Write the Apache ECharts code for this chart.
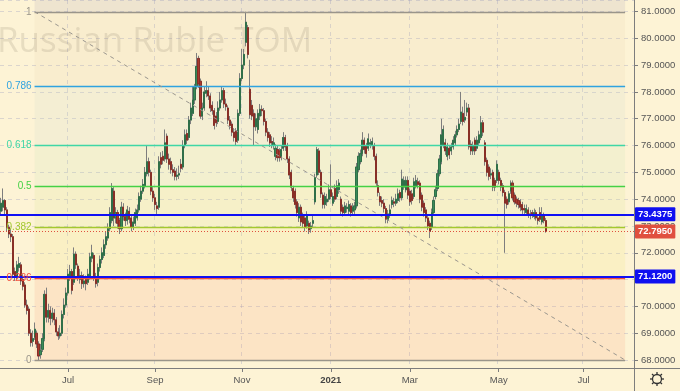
<!DOCTYPE html>
<html><head><meta charset="utf-8">
<script src="https://cdn.jsdelivr.net/npm/echarts@6/dist/echarts.min.js"></script>
<style>html,body{margin:0;padding:0;background:#fdf3d5;}#c{width:680px;height:391px;}</style>
</head><body><div id="c"></div>
<script>
// ---- categories ----
const startDate = '2020-05-14';
const barCount = 321;
const tickDates = ['2020-07-01','2020-09-01','2020-11-02','2021-01-04','2021-03-01','2021-05-03','2021-07-01'];
const tickLabels = ['Jul','Sep','Nov','2021','Mar','May','Jul'];

// ---- daily OHLC (USDRUB_TOM) ----
const openVals = [
73.55,73.70,73.95,73.60,72.95,72.70,72.60,71.30,71.10,71.45,
71.55,71.00,70.80,70.05,69.90,69.00,68.70,68.85,69.00,68.60,
68.20,68.40,68.80,70.45,69.60,69.85,69.55,69.75,69.50,69.05,
68.90,69.00,69.70,70.05,70.50,71.10,71.30,70.90,71.95,71.50,
71.00,71.15,70.85,71.00,70.90,71.10,71.80,71.90,71.10,70.90,
71.45,71.75,71.90,72.30,72.55,72.90,73.20,74.30,73.30,73.50,
73.20,72.90,73.70,73.35,73.20,73.55,73.30,72.95,73.10,73.30,
73.60,74.00,74.30,74.50,74.95,75.40,75.00,74.30,74.05,73.75,
73.70,75.55,75.60,75.50,76.35,75.50,75.40,75.10,75.05,74.85,
74.90,75.30,75.20,76.00,76.45,76.30,76.95,77.20,77.70,78.20,
79.25,78.40,77.10,77.40,77.95,78.05,77.85,77.50,77.30,77.10,
76.90,77.40,77.70,78.05,77.55,77.40,76.95,76.80,76.50,76.55,
76.20,77.20,78.50,79.00,79.85,80.40,78.10,77.50,77.20,76.70,
76.60,77.10,77.35,77.30,76.90,76.50,76.40,76.15,76.00,75.60,
75.85,75.80,75.60,75.90,76.30,76.00,75.50,75.00,74.40,74.30,
73.90,73.30,73.70,73.40,73.30,73.00,73.10,72.90,73.10,73.90,
74.90,75.80,75.00,74.15,73.80,73.90,74.00,74.35,73.85,74.40,
74.10,74.35,74.00,73.70,73.50,73.65,73.55,73.75,73.55,73.60,
73.75,75.10,75.40,75.70,76.20,76.00,75.90,76.05,76.00,76.00,
75.60,74.50,74.10,73.95,73.85,73.65,73.25,73.40,73.80,73.90,
73.85,73.95,74.25,74.05,74.45,74.35,74.70,74.30,74.20,74.10,
74.50,74.65,74.60,74.15,73.85,73.60,73.30,73.10,72.95,73.50,
74.10,74.40,74.95,75.40,76.00,76.10,75.60,75.90,75.80,75.95,
76.10,76.40,76.60,76.90,77.20,76.95,77.25,77.40,76.05,75.80,
76.20,75.90,76.10,76.30,76.85,76.10,75.45,75.20,74.90,75.00,
74.70,74.70,75.00,74.70,74.50,74.25,74.00,73.90,74.30,74.60,
74.15,74.00,73.95,73.90,73.80,73.65,73.50,73.60,73.45,73.50,
73.35,73.50,73.30,73.50,73.15,73.40,73.20];
const closeVals = [
73.85,73.95,73.60,72.95,72.70,72.60,71.20,71.10,71.55,71.60,
70.95,70.75,70.05,69.85,69.00,68.65,68.80,69.15,68.60,68.15,
68.35,68.80,70.45,69.60,69.85,69.55,69.75,69.50,69.05,68.90,
69.00,69.70,70.05,70.50,71.20,71.30,70.60,71.95,71.55,71.10,
71.15,70.85,70.95,70.85,71.20,71.85,72.00,71.10,70.85,71.45,
71.75,72.00,72.30,72.60,72.90,73.50,74.40,73.30,73.50,73.10,
72.90,73.70,73.35,73.20,73.60,73.25,72.95,73.15,73.50,73.60,
74.10,74.30,74.55,75.00,75.40,75.00,74.30,74.05,73.80,73.65,
75.40,75.30,75.45,76.10,75.50,75.30,75.10,75.00,74.85,74.90,
74.95,75.15,76.00,76.40,76.20,76.95,77.40,77.70,78.20,78.95,
78.30,77.10,77.40,78.00,78.05,77.85,77.40,77.30,76.75,76.85,
77.40,77.70,78.05,77.55,77.45,76.95,76.75,76.50,76.30,76.15,
77.20,78.50,79.00,79.40,80.60,79.40,77.15,77.10,76.70,77.00,
77.20,77.35,77.30,76.90,76.50,76.30,76.10,76.10,76.10,75.90,
75.55,75.55,75.85,76.30,75.95,75.50,74.90,74.45,74.05,73.80,
73.50,73.70,73.15,73.10,72.95,73.40,72.85,73.00,73.20,74.80,
75.85,75.00,74.20,73.80,74.10,74.00,74.35,74.10,74.10,74.00,
74.50,74.60,73.55,73.50,73.75,73.70,73.80,73.50,73.70,73.75,
75.20,75.60,75.70,76.20,75.85,75.70,76.25,76.10,76.15,75.60,
74.60,74.25,73.90,73.85,73.65,73.25,73.45,73.60,73.95,73.85,
74.00,74.20,74.05,74.75,74.70,74.70,74.15,73.90,73.95,74.65,
74.70,74.55,74.00,73.70,73.50,73.30,73.00,72.80,73.50,73.95,
74.35,74.95,75.50,76.40,76.60,75.80,75.95,75.65,75.95,76.20,
76.40,76.60,76.80,77.25,76.90,77.05,77.40,75.95,75.80,76.00,
75.80,76.20,76.40,76.85,76.50,75.40,75.00,74.85,74.95,74.45,
74.45,75.30,74.70,74.45,74.25,73.85,73.80,74.20,74.60,74.05,
73.90,73.85,73.80,73.70,73.60,73.60,73.65,73.45,73.40,73.45,
73.50,73.30,73.20,73.25,73.40,73.20,72.795];
const highVals = [
74.05,74.40,74.00,73.70,73.05,72.90,72.70,71.45,71.70,71.85,
71.65,71.20,70.90,70.25,70.00,69.15,69.10,69.40,69.10,68.70,
68.60,69.00,70.60,70.70,70.10,70.00,69.95,69.90,69.60,69.20,
69.30,69.85,70.30,70.70,71.40,71.55,71.40,72.20,72.05,71.60,
71.40,71.30,71.20,71.15,71.40,72.00,72.30,72.00,71.25,71.60,
71.90,72.20,72.50,72.80,73.10,73.70,74.60,74.45,73.70,73.60,
73.30,73.90,73.85,73.50,73.75,73.70,73.40,73.35,73.65,73.80,
74.25,74.50,74.75,75.20,76.00,75.55,75.10,74.45,74.20,73.90,
75.60,75.75,75.80,76.60,76.45,75.70,75.55,75.30,75.20,75.15,
75.25,75.50,76.20,76.60,76.60,77.10,77.60,78.20,78.30,79.45,
79.35,78.50,77.60,78.20,78.40,78.20,77.95,77.65,77.40,77.25,
77.65,78.00,78.20,78.15,77.75,77.50,77.10,76.90,76.65,76.65,
77.35,78.70,79.60,79.60,80.99,80.50,79.20,77.70,77.35,77.20,
77.35,77.55,77.50,77.40,77.00,76.65,76.50,76.35,76.30,76.05,
76.00,75.90,76.00,76.50,76.40,76.10,75.60,75.10,74.50,74.40,
74.00,73.85,73.80,73.50,73.40,73.55,73.20,73.15,73.40,74.95,
75.95,75.90,75.10,74.25,74.25,74.20,74.55,75.30,74.25,74.55,
74.70,74.75,74.10,73.80,73.90,73.85,73.95,73.85,73.85,73.90,
75.35,75.75,75.85,76.50,76.30,76.10,76.45,76.25,76.30,76.10,
75.70,74.70,74.25,74.10,74.00,73.75,73.60,73.80,74.10,74.05,
74.20,74.40,74.35,75.10,74.85,74.85,74.85,74.40,74.35,74.80,
74.90,74.80,74.70,74.25,73.95,73.70,73.40,73.20,73.65,74.10,
74.50,75.10,75.65,77.00,76.75,76.25,76.10,76.00,76.10,76.35,
76.55,76.75,77.00,78.00,77.45,77.70,77.60,77.55,76.20,76.15,
76.30,76.35,76.55,77.10,76.95,76.20,75.55,75.30,75.15,75.10,
74.80,75.45,75.10,74.80,74.60,74.35,74.10,74.30,74.70,74.70,
74.25,74.10,74.05,74.00,73.90,73.80,73.80,73.70,73.60,73.60,
73.65,73.60,73.40,73.70,73.70,73.50,73.30];
const lowVals = [
73.40,73.55,73.40,72.80,72.55,72.40,71.05,70.95,71.00,71.30,
70.80,70.60,69.95,69.70,68.90,68.50,68.50,68.75,68.45,68.00,
68.05,68.30,68.70,69.40,69.40,69.30,69.40,69.30,68.90,68.75,
68.80,68.90,69.55,69.95,70.40,70.95,70.45,70.80,71.40,70.95,
70.85,70.65,70.70,70.60,70.80,71.00,71.65,70.95,70.70,70.75,
71.30,71.60,71.80,72.15,72.45,72.80,73.10,73.00,73.10,72.90,
72.70,72.80,73.20,73.00,73.05,73.10,72.80,72.85,73.00,73.20,
73.50,73.90,74.20,74.40,74.85,74.85,74.15,73.90,73.60,73.45,
73.60,75.15,75.30,75.40,75.35,75.10,74.95,74.85,74.70,74.70,
74.75,75.00,75.10,75.90,76.05,76.20,76.80,77.10,77.55,78.10,
78.15,77.00,76.95,77.30,77.80,77.70,77.25,77.15,76.60,76.70,
76.80,77.30,77.60,77.40,77.30,76.80,76.60,76.35,76.15,76.00,
76.10,77.10,78.40,78.85,79.70,79.25,77.00,76.95,76.00,76.55,
76.45,76.95,77.10,76.75,76.35,76.15,75.95,75.90,75.85,75.45,
75.40,75.40,75.45,75.80,75.80,75.35,74.75,74.30,73.90,73.65,
73.35,73.15,73.00,72.95,72.80,72.90,72.70,72.75,72.95,73.80,
74.80,74.90,74.05,73.65,73.65,73.75,73.90,74.00,73.75,73.90,
74.00,74.20,73.40,73.35,73.40,73.50,73.40,73.35,73.40,73.45,
73.65,75.00,75.30,75.60,75.70,75.55,75.80,75.90,75.85,75.45,
74.50,74.10,73.75,73.70,73.50,73.10,73.10,73.30,73.65,73.70,
73.75,73.85,73.90,73.95,74.35,74.25,74.00,73.75,73.80,74.00,
74.40,74.40,73.85,73.55,73.35,73.15,72.85,72.55,72.85,73.40,
74.00,74.30,74.85,75.30,75.90,75.65,75.45,75.50,75.65,75.85,
76.00,76.30,76.50,76.80,76.75,76.85,77.10,75.85,75.65,75.65,
75.65,75.80,76.00,76.20,76.35,75.25,74.85,74.70,74.75,74.30,
74.30,74.60,74.55,74.30,74.10,72.00,73.65,73.80,74.20,73.95,
73.80,73.70,73.65,73.55,73.45,73.45,73.40,73.30,73.25,73.30,
73.25,73.20,73.05,73.15,73.05,73.10,72.75];

// ---- drawings ----
const fibStart = '2020-06-08';
const fibEnd = '2021-07-30';
const fibHigh = 80.99;
const fibLow = 68.00;
const fibRatios = [1.618, 1, 0.786, 0.618, 0.5, 0.382, 0.236, 0];
const fibLineColors = ['#9c988c', '#9a958a', '#2fa3e0', '#3fd6a6', '#45d145', '#a3c82e', '#f2503c', '#9a958a'];
const fibBandColors = ['rgba(150,140,170,0.14)','rgba(215,190,150,0.10)','rgba(190,215,200,0.14)','rgba(175,225,170,0.13)','rgba(205,230,120,0.14)','rgba(235,225,90,0.14)','rgba(245,140,100,0.14)'];
const blueLevels = [73.4375, 71.12];
const lastPrice = 72.795;

const yMin = 67.703, yMax = 81.429;

function buildDates(start, n) {
  const out = [];
  const d = new Date(start + 'T00:00:00Z');
  while (out.length < n) {
    const wd = d.getUTCDay();
    if (wd !== 0 && wd !== 6) out.push(d.toISOString().slice(0, 10));
    d.setUTCDate(d.getUTCDate() + 1);
  }
  return out;
}
const dates = buildDates(startDate, barCount);
const wickData = openVals.map((o, i) => [o, closeVals[i], lowVals[i], highVals[i]]);
const bodyData = openVals.map((o, i) => [o, closeVals[i], Math.min(o, closeVals[i]), Math.max(o, closeVals[i])]);
const isTick = (idx, val) => tickDates.indexOf(val) >= 0;

const fibVal = r => fibLow + r * (fibHigh - fibLow);
const bandData = [];
for (let k = 0; k < fibRatios.length - 1; k++) {
  bandData.push([
    { coord: [fibStart, Math.min(fibVal(fibRatios[k]), yMax)], itemStyle: { color: fibBandColors[k] } },
    { coord: [fibEnd, fibVal(fibRatios[k + 1])] }
  ]);
}
const fibLineData = [];
fibRatios.forEach((r, k) => {
  if (r > 1) return;
  fibLineData.push([
    { coord: [fibStart, fibVal(r)], lineStyle: { color: fibLineColors[k], width: 1.3, type: 'solid' },
      label: { show: true, position: 'start', distance: 3, formatter: String(r), color: fibLineColors[k], fontSize: 10, fontFamily: 'Liberation Sans' } },
    { coord: [fibEnd, fibVal(r)] }
  ]);
});
fibLineData.push([
  { coord: [fibStart, fibHigh], lineStyle: { color: '#9a968e', width: 1, type: [4, 4] }, label: { show: false } },
  { coord: [fibEnd, fibLow] }
]);

const boxLabel = (bg, v) => ({
  show: true, position: 'end', distance: 1, formatter: v.toFixed(4),
  backgroundColor: bg, color: '#ffffff', fontSize: 9.5, fontWeight: 'bold', fontFamily: 'Liberation Sans',
  padding: [2, 3, 2, 3], borderRadius: 1
});
const levelLineData = blueLevels.map(v => ({ yAxis: v, lineStyle: { color: '#1010f5', width: 2, type: 'solid' }, label: boxLabel('#1010f0', v) }));
levelLineData.splice(1, 0, { yAxis: lastPrice, lineStyle: { color: '#e0503f', width: 1, type: [1, 2] }, label: boxLabel('#e0503f', lastPrice) });

const gear = [];
for (let a = 0; a < 8; a++) {
  const t = a * Math.PI / 4;
  gear.push({ type: 'line', shape: { x1: 657 + Math.cos(t) * 4.5, y1: 379 + Math.sin(t) * 4.5, x2: 657 + Math.cos(t) * 7, y2: 379 + Math.sin(t) * 7 }, style: { stroke: '#333', lineWidth: 1.3 } });
}

const chart = echarts.init(document.getElementById('c'), null, { renderer: 'canvas' });
chart.setOption({
  animation: false,
  backgroundColor: '#fdf3d5',
  grid: { left: 0, right: 46, top: 0, bottom: 23, containLabel: false },
  xAxis: {
    type: 'category', data: dates, boundaryGap: true,
    axisLine: { show: true, lineStyle: { color: '#7d7d7d', width: 1 } },
    axisTick: { show: true, alignWithLabel: true, interval: isTick, length: 4, lineStyle: { color: '#7d7d7d' } },
    axisLabel: { interval: isTick, margin: 7, color: '#555', fontSize: 9.5, fontFamily: 'Liberation Sans',
      formatter: v => { const k = tickDates.indexOf(v); if (k < 0) return ''; return tickLabels[k] === '2021' ? '{b|2021}' : tickLabels[k]; },
      rich: { b: { fontWeight: 'bold', color: '#444', fontSize: 9.5, fontFamily: 'Liberation Sans' } } },
    splitLine: { show: true, interval: isTick, lineStyle: { color: 'rgba(150,150,190,0.32)', type: [4, 4], width: 1 } }
  },
  yAxis: {
    type: 'value', position: 'right', min: yMin, max: yMax, minInterval: 1, maxInterval: 1, splitNumber: 14,
    axisLine: { show: true, lineStyle: { color: '#7d7d7d', width: 1 } },
    axisTick: { show: true, length: 4, lineStyle: { color: '#7d7d7d' } },
    axisLabel: { margin: 7, color: '#555', fontSize: 9.5, fontFamily: 'Liberation Sans', showMinLabel: false, showMaxLabel: false,
      formatter: v => Math.abs(v - Math.round(v)) < 1e-6 ? v.toFixed(4) : '' },
    splitLine: { show: true, lineStyle: { color: 'rgba(150,150,190,0.32)', type: [4, 4], width: 1 } }
  },
  graphic: [
    { type: 'text', z: 2, left: -3, top: 25, silent: true,
      style: { text: 'Russian Ruble TOM', font: '35px "Open Sans"', fill: 'rgba(120,105,85,0.16)' } },
    { type: 'line', z: 10, shape: { x1: 634.5, y1: 368, x2: 634.5, y2: 391 }, style: { stroke: '#7d7d7d', lineWidth: 1 } },
    { type: 'line', z: 10, shape: { x1: 634, y1: 368.5, x2: 680, y2: 368.5 }, style: { stroke: '#7d7d7d', lineWidth: 1 } },
    { type: 'circle', z: 10, shape: { cx: 657, cy: 379, r: 4.5 }, style: { fill: 'none', stroke: '#333', lineWidth: 1.3 } }
  ].concat(gear.map(g => Object.assign({ z: 10 }, g))),
  series: [
    { name: 'fib', type: 'line', data: closeVals, z: 1, silent: true, symbol: 'none', showSymbol: false,
      lineStyle: { opacity: 0, width: 0 },
      markArea: { silent: true, data: bandData, label: { show: false } },
      markLine: { silent: true, symbol: ['none', 'none'], data: fibLineData } },
    { name: 'wick', type: 'candlestick', data: wickData, z: 3, barWidth: 1.6, silent: true,
      itemStyle: { color: '#7e7e7e', color0: '#7e7e7e', borderColor: '#7e7e7e', borderColor0: '#7e7e7e', borderWidth: 1 } },
    { name: 'body', type: 'candlestick', data: bodyData, z: 4, barWidth: 1.6, silent: true,
      itemStyle: { color: '#3a8a58', color0: '#a8382d', borderColor: '#2b6d45', borderColor0: '#872a22', borderWidth: 0.9 } },
    { name: 'levels', type: 'line', data: closeVals, z: 6, silent: true, symbol: 'none', showSymbol: false,
      lineStyle: { opacity: 0, width: 0 },
      markLine: { silent: true, symbol: ['none', 'none'], precision: 4, data: levelLineData } }
  ]
});
</script></body></html>
